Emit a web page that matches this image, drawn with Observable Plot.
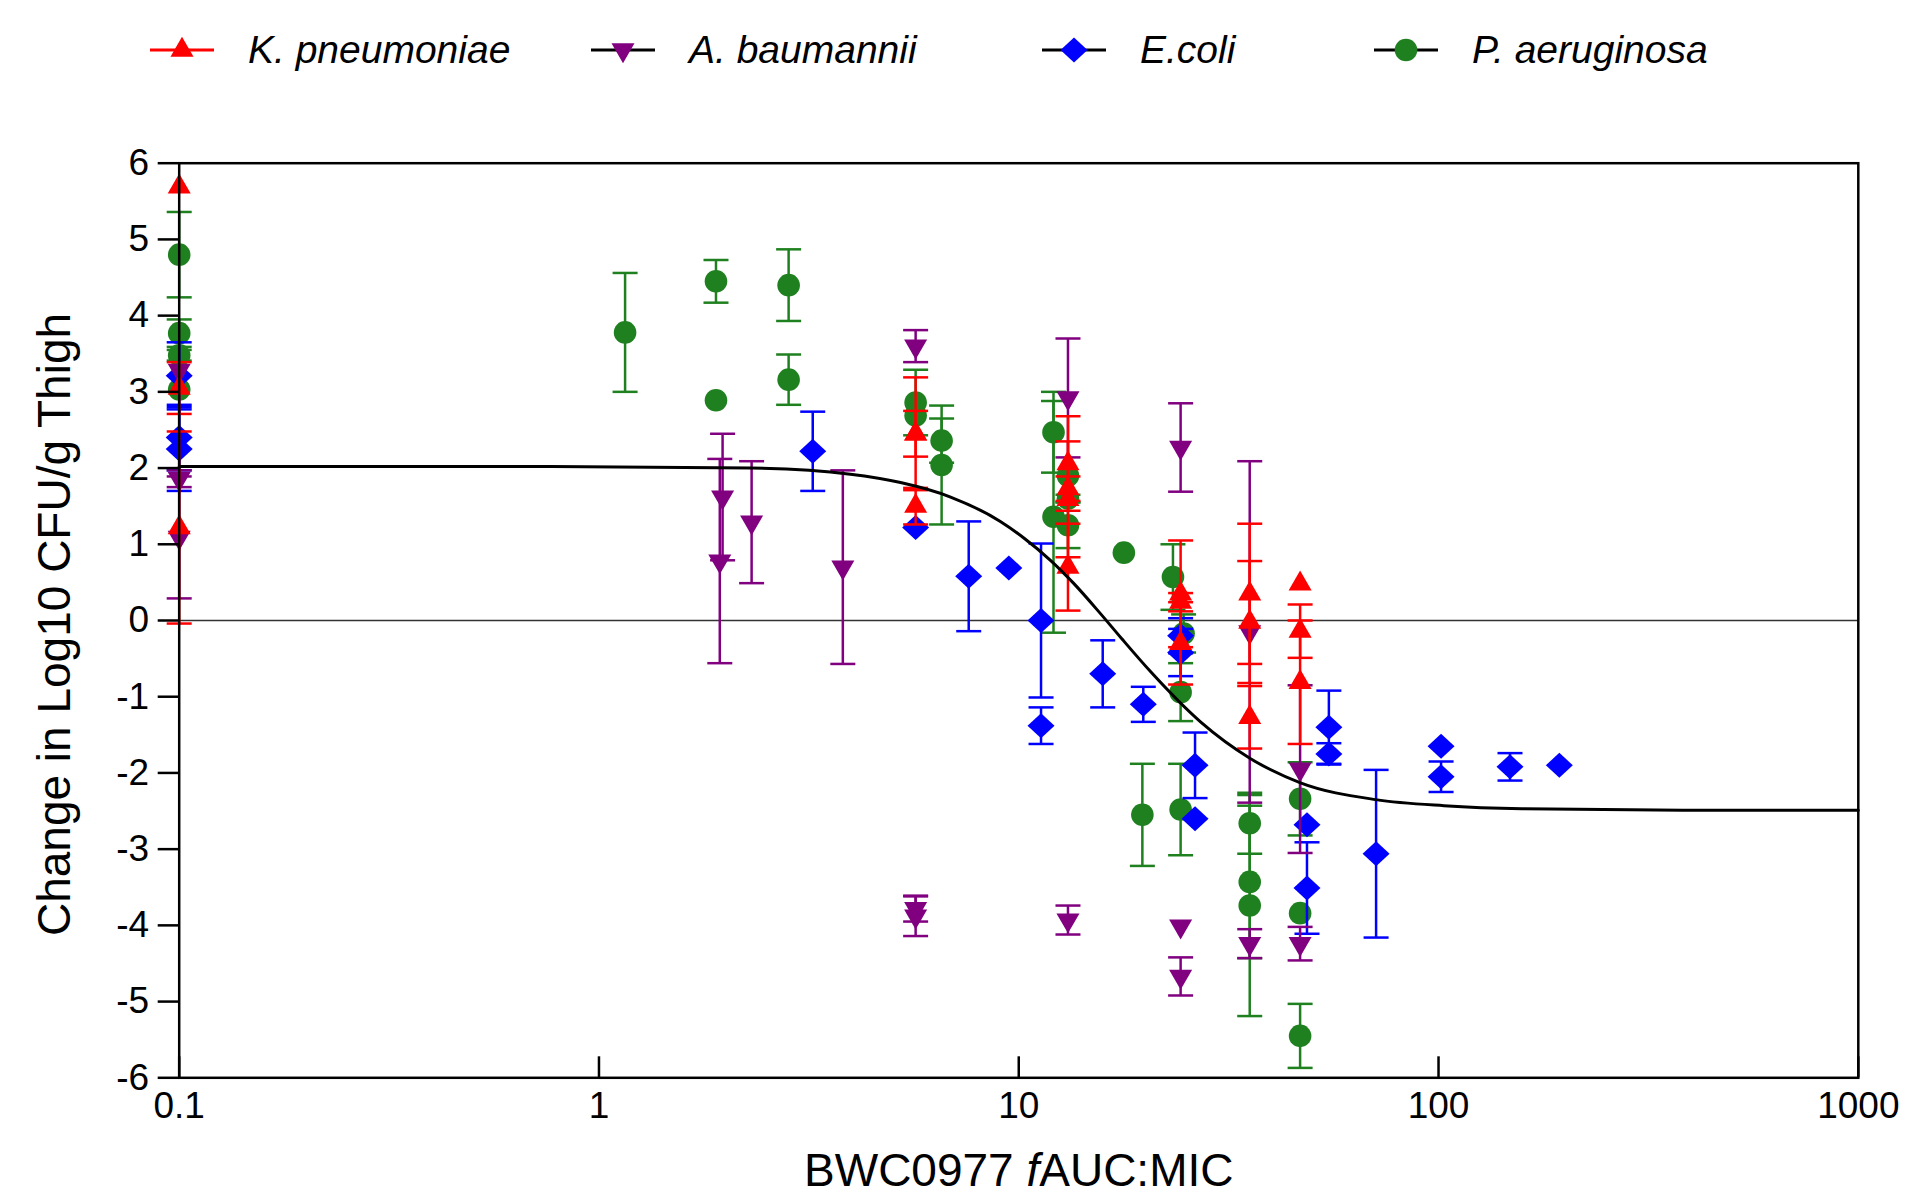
<!DOCTYPE html>
<html>
<head>
<meta charset="utf-8">
<script src="https://cdn.jsdelivr.net/npm/d3@7"></script>
<script src="https://cdn.jsdelivr.net/npm/@observablehq/plot@0.6"></script>
<style>
html, body { margin: 0; padding: 0; background: #fff; }
#chart { position: relative; width: 1908px; height: 1197px; overflow: hidden; }
#legend { position: absolute; left: 0; top: 0; }
#plot { position: absolute; left: 0; top: 100px; }
</style>
</head>
<body>
<div id="chart"><div id="legend"></div><div id="plot"></div></div>
<script>
// ---------------- data ----------------
const species = ["K. pneumoniae", "A. baumannii", "E.coli", "P. aeruginosa"];
const speciesColors = ["#ff0000", "#800080", "#0000ff", "#1f801f"];
const legendLineColors = ["#ff0000", "#000000", "#000000", "#000000"];

// K. pneumoniae (mean, SD)
const kpX  = [0.1, 0.1, 0.1, 5.68, 5.68, 5.68, 13.1, 13.1, 13.1, 13.1, 24.3, 24.3, 24.3, 35.5, 35.5, 35.5, 46.8, 46.8, 46.8];
const kpY  = [5.69, 3.05, 1.22, 2.45, 2.45, 1.50, 2.06, 1.73, 1.59, 0.70, 0.35, 0.24, -0.30, 0.35, -0.02, -1.27, 0.48, -0.14, -0.81];
const kpSD = [0, 0.34, 1.26, 0.30, 0.74, 0.24, 0.62, 0.16, 0.76, 0.57, 0.70, 0.12, 0.54, 0.92, 0.80, 0.41, 0, 0.35, 0.81];

// A. baumannii
const abX  = [0.1, 0.1, 0.1, 1.97, 1.94, 2.31, 3.81, 5.68, 5.68, 5.68, 13.1, 13.1, 24.3, 24.3, 24.3, 35.5, 35.5, 46.8, 46.8];
const abY  = [3.28, 1.86, 1.09, 1.62, 0.78, 1.29, 0.70, 3.60, -3.78, -3.88, 2.92, -3.93, 2.27, -4.01, -4.67, -0.15, -4.24, -1.95, -4.24];
const abSD = [0, 0.11, 0.80, 0.83, 1.34, 0.80, 1.27, 0.21, 0.17, 0.26, 0.78, 0.19, 0.58, 0, 0.25, 2.24, 0.19, 1.10, 0.22];

// E. coli
const ecX  = [0.1, 0.1, 0.1, 3.23, 5.68, 7.6, 9.47, 11.3, 11.3, 15.85, 19.8, 24.3, 24.3, 26.3, 26.3, 48.6, 48.6, 54.8, 54.8, 71, 101.4, 101.4, 148, 194];
const ecY  = [3.21, 2.40, 2.25, 2.22, 1.22, 0.58, 0.69, 0.00, -1.38, -0.70, -1.10, -0.20, -0.42, -1.90, -2.60, -2.68, -3.51, -1.40, -1.75, -3.06, -1.65, -2.05, -1.92, -1.90];
const ecSD = [0.44, 0.43, 0.55, 0.52, 0, 0.72, 0, 1.01, 0.24, 0.44, 0.23, 0.23, 0.31, 0.43, 0, 0, 0.60, 0.48, 0.14, 1.10, 0, 0.20, 0.18, 0];

// P. aeruginosa
const paX  = [0.1, 0.1, 0.1, 0.1, 1.154, 1.90, 1.90, 2.83, 2.83, 5.68, 5.68, 6.55, 6.55, 12.1, 12.1, 13.1, 13.1, 13.1, 17.8, 19.7, 23.3, 24.7, 24.3, 24.3, 35.5, 35.5, 35.5, 46.8, 46.8, 46.8];
const paY  = [4.80, 3.77, 3.48, 3.03, 3.78, 4.45, 2.89, 4.40, 3.16, 2.86, 2.69, 2.36, 2.04, 2.47, 1.36, 1.90, 1.60, 1.25, 0.89, -2.55, 0.57, -0.17, -0.94, -2.48, -2.66, -3.43, -3.74, -2.34, -3.84, -5.45];
const paSD = [0.56, 0.18, 0.07, 0, 0.78, 0.28, 0, 0.47, 0.33, 0.43, 0, 0.29, 0.78, 0.53, 1.52, 0, 0.05, 0.30, 0, 0.67, 0.43, 0.25, 0.38, 0.60, 0.40, 1.00, 1.45, 0.48, 0, 0.42];

// fitted curve
const curveX = [0.1, 0.77, 2.3, 3.97, 5.23, 6.88, 9.04, 10.3, 11.9, 13.5, 15.6, 17.6, 20.6, 27.1, 35.6, 46.9, 70.8, 103, 158, 421, 1000];
const curveY = [2.02, 2.02, 2.00, 1.92, 1.81, 1.62, 1.30, 1.08, 0.79, 0.49, 0.10, -0.24, -0.67, -1.33, -1.81, -2.13, -2.35, -2.43, -2.47, -2.49, -2.49];

const xTicks = [0.1, 1, 10, 100, 1000];
const yTicks = [-6, -5, -4, -3, -2, -1, 0, 1, 2, 3, 4, 5, 6];
const yLabel = "Change in Log10 CFU/g Thigh";
const xLabelParts = ["BWC0977 ", "f", "AUC:MIC"];
const xLabel = xLabelParts.join("");

// ---------------- symbols ----------------
const S3 = Math.sqrt(3);
const triUp = {draw(c) { const y = 6.65; c.moveTo(0, -2 * y); c.lineTo(S3 * y, y); c.lineTo(-S3 * y, y); c.closePath(); }};
const triDown = {draw(c) { const y = 6.65; c.moveTo(0, 2 * y); c.lineTo(S3 * y, -y); c.lineTo(-S3 * y, -y); c.closePath(); }};
const diamond = {draw(c) { c.moveTo(0, -12.5); c.lineTo(13.5, 0); c.lineTo(0, 12.5); c.lineTo(-13.5, 0); c.closePath(); }};
const circle = {draw(c) { c.moveTo(11.3, 0); c.arc(0, 0, 11.3, 0, 2 * Math.PI); }};
const cap = {draw(c) { c.moveTo(-12.5, 0); c.lineTo(12.5, 0); }};
const speciesSymbols = [triUp, triDown, diamond, circle];

function rows(xs, ys, sds) { return xs.map((x, i) => ({x, y: ys[i], sd: sds[i]})); }
const sets = [
  rows(kpX, kpY, kpSD),
  rows(abX, abY, abSD),
  rows(ecX, ecY, ecSD),
  rows(paX, paY, paSD)
];
const curve = curveX.map((x, i) => ({x, y: curveY[i]}));

function speciesMarks(i) {
  const data = sets[i], color = speciesColors[i];
  const err = data.filter(d => d.sd > 0);
  return [
    Plot.ruleX(err, {x: "x", y1: d => d.y - d.sd, y2: d => d.y + d.sd, stroke: color, strokeWidth: 2.5}),
    Plot.dot(err, {x: "x", y: d => d.y + d.sd, symbol: cap, fill: "none", stroke: color, strokeWidth: 2.5}),
    Plot.dot(err, {x: "x", y: d => d.y - d.sd, symbol: cap, fill: "none", stroke: color, strokeWidth: 2.5}),
    Plot.dot(data, {x: "x", y: "y", symbol: speciesSymbols[i], fill: color, stroke: "none"})
  ];
}

// ---------------- plot ----------------
const W = 1908, H = 1097;
const mL = 178.7, mR = 50.2, mT = 62.7, mB = 119.7;
const innerH = H - mT - mB;

const svg = Plot.plot({
  width: W, height: H,
  marginLeft: mL, marginRight: mR, marginTop: mT, marginBottom: mB,
  style: {fontFamily: '"Liberation Sans", Arial, Helvetica, sans-serif', background: "white", color: "black", overflow: "visible"},
  x: {type: "log", domain: [0.1, 1000]},
  y: {domain: [-6, 6]},
  marks: [
    Plot.ruleY([0], {stroke: "#333", strokeWidth: 1.5}),
    ...speciesMarks(3),
    ...speciesMarks(2),
    ...speciesMarks(1),
    ...speciesMarks(0),
    Plot.line(curve, {x: "x", y: "y", curve: "monotone-x", stroke: "black", strokeWidth: 3}),
    Plot.frame({stroke: "black", strokeWidth: 2.5}),
    Plot.tickX(xTicks, {x: d => d, insetTop: innerH - 21, stroke: "black", strokeWidth: 2.5}),
    Plot.axisY({ticks: yTicks, tickFormat: d => String(d), tickSize: 21, tickPadding: 9, fontSize: 37, strokeWidth: 2.5, label: null}),
    Plot.axisX({ticks: xTicks, tickFormat: d => String(d), tickSize: 0, tickPadding: 14, fontSize: 37, label: null}),
    Plot.text([yLabel], {text: d => d, frameAnchor: "left", textAnchor: "middle", rotate: -90, dx: -123.7, dy: 4, fontSize: 46}),
    Plot.text([xLabel], {text: d => d, frameAnchor: "bottom", textAnchor: "middle", dy: 108, fontSize: 46})
  ]
});
document.getElementById("plot").appendChild(svg);

// italic "f" in the x label
d3.select(svg).selectAll("text").filter(function() { return this.textContent === xLabel; }).each(function() {
  const t = d3.select(this);
  t.text(null);
  t.append("tspan").text(xLabelParts[0]);
  t.append("tspan").attr("font-style", "italic").text(xLabelParts[1]);
  t.append("tspan").text(xLabelParts[2]);
});

// ---------------- legend ----------------
const legendX = [182, 623, 1074, 1406];
const lg = d3.select("#legend").append("svg").attr("width", 1908).attr("height", 100)
  .style("font-family", '"Liberation Sans", Arial, Helvetica, sans-serif');
species.forEach((s, i) => {
  const g = lg.append("g").attr("transform", `translate(${legendX[i]},50)`);
  g.append("line").attr("x1", -32).attr("x2", 32).attr("y1", 0).attr("y2", 0)
    .attr("stroke", legendLineColors[i]).attr("stroke-width", 3);
  g.append("path").attr("d", d3.symbol(speciesSymbols[i])()).attr("fill", speciesColors[i]);
  g.append("text").attr("x", 66).attr("y", 12.7).attr("font-size", 39).attr("font-style", "italic")
    .attr("fill", "black").text(s);
});
</script>
</body>
</html>
